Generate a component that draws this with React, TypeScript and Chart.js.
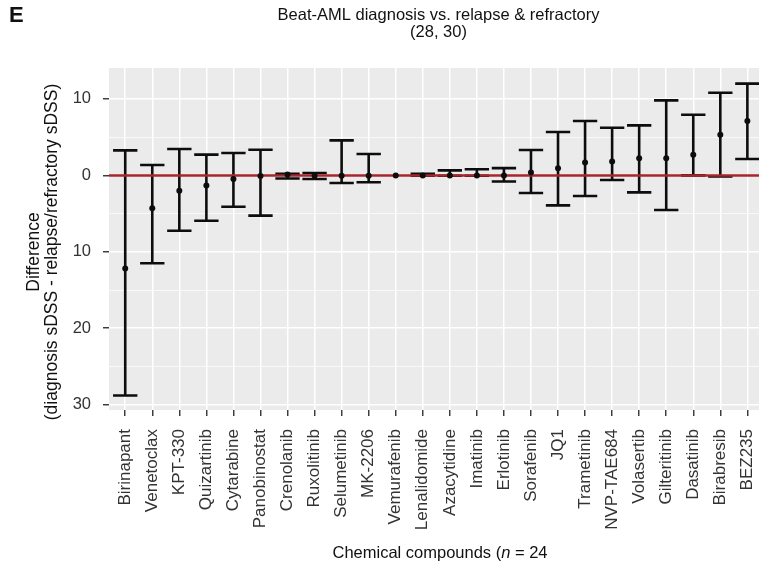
import React, { useEffect, useRef } from 'react';
import { Chart, registerables } from 'chart.js';

Chart.register(...registerables);

const compounds = [
  'Birinapant', 'Venetoclax', 'KPT-330', 'Quizartinib', 'Cytarabine', 'Panobinostat',
  'Crenolanib', 'Ruxolitinib', 'Selumetinib', 'MK-2206', 'Vemurafenib', 'Lenalidomide',
  'Azacytidine', 'Imatinib', 'Erlotinib', 'Sorafenib', 'JQ1', 'Trametinib',
  'NVP-TAE684', 'Volasertib', 'Gilteritinib', 'Dasatinib', 'Birabresib', 'BEZ235',
];
const meanDiff = [
  -12.2, -4.3, -2.0, -1.31, -0.47, -0.08,
  0.1, -0.05, -0.05, -0.05, 0.0, 0.0,
  0.0, 0.0, 0.0, 0.39, 0.92, 1.7,
  1.83, 2.23, 2.23, 2.71, 5.33, 7.12,
];
const lowerCI = [
  -28.8, -11.5, -7.24, -5.93, -4.1, -5.27,
  -0.4, -0.47, -1.0, -0.9, 0.0, -0.05,
  -0.05, -0.05, -0.8, -2.3, -3.93, -2.7,
  -0.6, -2.22, -4.53, 0.0, -0.13, 2.15,
];
const upperCI = [
  3.27, 1.36, 3.45, 2.71, 2.93, 3.36,
  0.2, 0.31, 4.58, 2.8, 0.0, 0.22,
  0.65, 0.8, 0.95, 3.32, 5.68, 7.12,
  6.24, 6.54, 9.82, 7.94, 10.82, 12.0,
];
const yTickValues = [-30, -20, -10, 0, 10];
const yTickLabels = ['30', '20', '10', '0', '10'];
const yMinorValues = [-25, -15, -5, 5];
const titleLines = ['Beat-AML diagnosis vs. relapse & refractory', '(28, 30)'];
const yTitleLines = ['Difference', '(diagnosis sDSS - relapse/refractory sDSS)'];
const xTitleParts = ['Chemical compounds (', 'n', ' = 24'];
const panelLetter = 'E';
const referenceLine = 0;

const FONT = '"Liberation Sans", Arial, Helvetica, sans-serif';

export default function App() {
  const ref = useRef<HTMLCanvasElement>(null);

  useEffect(() => {
    if (!ref.current) return;

    const panelBg = {
      id: 'panelBg',
      beforeDraw(chart: any) {
        const { ctx, chartArea: a } = chart;
        ctx.save();
        ctx.fillStyle = '#ffffff';
        ctx.fillRect(0, 0, chart.width, chart.height);
        ctx.fillStyle = '#EBEBEB';
        ctx.fillRect(a.left, a.top, a.right - a.left, a.bottom - a.top);
        ctx.restore();
      },
    };

    const errorBars = {
      id: 'errorBars',
      beforeDatasetsDraw(chart: any) {
        const { ctx, chartArea: a } = chart;
        const xs = chart.scales.x;
        const ys = chart.scales.y;
        const half = (xs.getPixelForValue(1) - xs.getPixelForValue(0)) * 0.45;
        ctx.save();
        ctx.beginPath();
        ctx.rect(a.left, a.top, a.right - a.left, a.bottom - a.top);
        ctx.clip();
        ctx.strokeStyle = '#0d0d0d';
        ctx.lineWidth = 2.6;
        ctx.lineCap = 'butt';
        compounds.forEach((_, i) => {
          const lo = lowerCI[i];
          const hi = upperCI[i];
          if (lo === hi) return;
          const x = xs.getPixelForValue(i);
          const y1 = ys.getPixelForValue(lo);
          const y2 = ys.getPixelForValue(hi);
          ctx.beginPath();
          ctx.moveTo(x, y1);
          ctx.lineTo(x, y2);
          ctx.moveTo(x - half, y1);
          ctx.lineTo(x + half, y1);
          ctx.moveTo(x - half, y2);
          ctx.lineTo(x + half, y2);
          ctx.stroke();
        });
        // reference line
        const y0 = ys.getPixelForValue(referenceLine);
        ctx.strokeStyle = '#A6262C';
        ctx.lineWidth = 2.5;
        ctx.beginPath();
        ctx.moveTo(a.left, y0);
        ctx.lineTo(a.right, y0);
        ctx.stroke();
        ctx.restore();
      },
    };

    const texts = {
      id: 'texts',
      afterDraw(chart: any) {
        const { ctx, chartArea: a } = chart;
        const cx = (a.left + 766) / 2;
        ctx.save();
        // panel letter
        ctx.fillStyle = '#111111';
        ctx.font = `bold 22px ${FONT}`;
        ctx.textAlign = 'left';
        ctx.textBaseline = 'alphabetic';
        ctx.fillText(panelLetter, 9, 22);
        // title
        ctx.font = `16.5px ${FONT}`;
        ctx.textAlign = 'center';
        ctx.fillStyle = '#111111';
        ctx.fillText(titleLines[0], cx + 1, 20);
        ctx.fillText(titleLines[1], cx + 1, 37);
        // y title
        ctx.save();
        ctx.font = `17.5px ${FONT}`;
        ctx.textAlign = 'center';
        ctx.textBaseline = 'alphabetic';
        ctx.translate(38.5, 252);
        ctx.rotate(-Math.PI / 2);
        ctx.fillText(yTitleLines[0], 0, 0);
        ctx.fillText(yTitleLines[1], 0, 18);
        ctx.restore();
        // x title with italic n
        ctx.textBaseline = 'alphabetic';
        ctx.textAlign = 'left';
        const fReg = `16.5px ${FONT}`;
        const fIt = `italic 16.5px ${FONT}`;
        ctx.font = fReg;
        const w0 = ctx.measureText(xTitleParts[0]).width;
        const w2 = ctx.measureText(xTitleParts[2]).width;
        ctx.font = fIt;
        const w1 = ctx.measureText(xTitleParts[1]).width;
        const total = w0 + w1 + w2;
        let xx = 440 - total / 2;
        const yy = 558;
        ctx.font = fReg;
        ctx.fillText(xTitleParts[0], xx, yy);
        xx += w0;
        ctx.font = fIt;
        ctx.fillText(xTitleParts[1], xx, yy);
        xx += w1;
        ctx.font = fReg;
        ctx.fillText(xTitleParts[2], xx, yy);
        ctx.restore();
      },
    };

    const chart = new Chart(ref.current, {
      type: 'scatter',
      data: {
        datasets: [
          {
            data: compounds.map((_, i) => ({ x: i, y: meanDiff[i] })),
            pointRadius: 3,
            pointBackgroundColor: '#0d0d0d',
            pointBorderWidth: 0,
            pointHoverRadius: 3,
          },
        ],
      },
      options: {
        animation: false,
        responsive: false,
        devicePixelRatio: 1,
        layout: { padding: { top: 68, left: 0, right: 0, bottom: 0 } },
        plugins: { legend: { display: false }, tooltip: { enabled: false }, title: { display: false } },
        scales: {
          x: {
            type: 'linear',
            min: -0.6,
            max: 23.43,
            afterBuildTicks: (s: any) => {
              s.ticks = compounds.map((_, i) => ({ value: i }));
            },
            afterFit: (s: any) => {
              s.height = 157;
              s.paddingLeft = 0;
              s.paddingRight = 0;
            },
            ticks: {
              autoSkip: false,
              maxRotation: 90,
              minRotation: 90,
              padding: 13,
              color: '#333333',
              font: { family: FONT, size: 17 },
              callback: (v: any) => compounds[Math.round(Number(v))] ?? '',
            },
            grid: {
              color: '#ffffff',
              lineWidth: 1.5,
              tickColor: '#333333',
              tickWidth: 1.4,
              tickLength: 6,
            },
            border: { display: false },
          },
          y: {
            type: 'linear',
            min: -30.7,
            max: 14.05,
            afterBuildTicks: (s: any) => {
              const vals = [...yTickValues, ...yMinorValues].sort((p, q) => p - q);
              s.ticks = vals.map((v) => ({ value: v }));
            },
            afterFit: (s: any) => {
              s.width = 109;
            },
            ticks: {
              padding: 12,
              color: '#333333',
              font: { family: FONT, size: 16.5 },
              callback: (v: any) => {
                const idx = yTickValues.indexOf(Number(v));
                return idx >= 0 ? yTickLabels[idx] : '';
              },
            },
            grid: {
              color: '#ffffff',
              lineWidth: (c: any) => (c.tick && yTickValues.includes(c.tick.value) ? 1.5 : 0.7),
              tickColor: (c: any) => (c.tick && yTickValues.includes(c.tick.value) ? '#333333' : 'rgba(0,0,0,0)'),
              tickWidth: 1.4,
              tickLength: 6,
            },
            border: { display: false },
          },
        },
      },
      plugins: [panelBg, errorBars, texts],
    } as any);

    return () => chart.destroy();
  }, []);

  return (
    <div style={{ position: 'absolute', left: 0, top: 0, width: 762, height: 567, overflow: 'hidden', background: '#fff' }}>
      <canvas ref={ref} width={762} height={567} style={{ width: 762, height: 567, display: 'block' }} />
    </div>
  );
}
